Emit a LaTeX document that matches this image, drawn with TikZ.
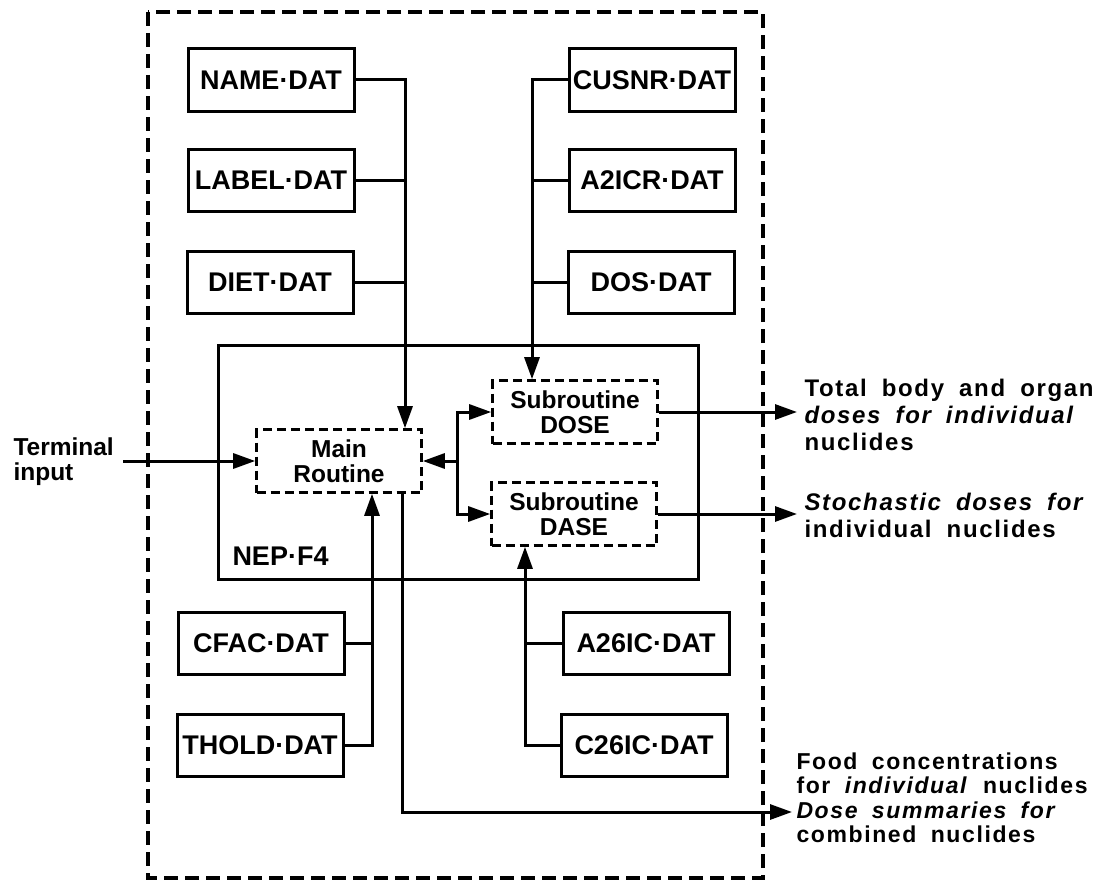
\documentclass[tikz,border=0pt]{standalone}
\usepackage{fontspec}
\setmainfont{Liberation Sans}
\newfontfamily\lblfont[LetterSpace=7,WordSpace=1.8]{Liberation Sans}
\usetikzlibrary{arrows.meta}
\begin{document}
\begin{tikzpicture}[x=1pt,y=-1pt,line width=3pt,
  filebox/.style={draw, minimum width=166pt, minimum height=62pt, inner sep=0pt,
    font=\fontsize{27}{30}\selectfont\bfseries},
  routine/.style={draw, line width=2.6pt, dash pattern=on 9pt off 5pt, minimum width=165pt, minimum height=63pt,
    inner sep=0pt, align=center, font=\fontsize{24.5}{25}\selectfont\bfseries},
  arr/.style={-{Triangle[length=22pt,width=15pt]}},
  outlbl/.style={anchor=west, align=left, inner sep=0pt,
    font=\lblfont\fontsize{24}{27}\selectfont\bfseries},
  botlbl/.style={anchor=west, align=left, inner sep=0pt,
    font=\lblfont\fontsize{23}{24.5}\selectfont\bfseries},
  plainlbl/.style={anchor=west, align=left, inner sep=0pt,
    font=\fontsize{24.5}{25}\selectfont\bfseries},
]
\useasboundingbox (0,0) rectangle (1098,883);

% outer dashed frame
\draw[line width=3.2pt, dash pattern=on 14pt off 7pt] (148,12) rectangle (763,878);

% NEP.F4 box
\node[draw, minimum width=480pt, minimum height=234pt, inner sep=0pt] (nep) at (458,462) {};
\node[plainlbl, font=\fontsize{27}{30}\selectfont\bfseries] (neplbl) at (231,556) {NEP·F4};

% data files
\node[filebox] (name)  at (271,80)  {NAME·DAT};
\node[filebox] (label) at (271,180) {LABEL·DAT};
\node[filebox] (diet)  at (270,282) {DIET·DAT};
\node[filebox] (cusnr) at (652,80)  {CUSNR·DAT};
\node[filebox] (a2icr) at (652,180) {A2ICR·DAT};
\node[filebox] (dos)   at (651,282) {DOS·DAT};
\node[filebox] (cfac)  at (261,643) {CFAC·DAT};
\node[filebox] (thold) at (260,745) {THOLD·DAT};
\node[filebox] (a26)   at (646,643) {A26IC·DAT};
\node[filebox] (c26)   at (644,745) {C26IC·DAT};

% routines
\node[routine] (main) at (339,461) {Main\\Routine};
\node[routine] (dose) at (575,412) {Subroutine\\DOSE};
\node[routine] (dase) at (574,514) {Subroutine\\DASE};

% labels
\node[plainlbl] (term) at (12,462) {Terminal\\input};
\node[outlbl] (doselbl) at (803,415) {Total body and organ\\\textit{doses for individual}\\nuclides};
\node[outlbl] (daselbl) at (803,515) {\textit{Stochastic doses for}\\individual nuclides};
\node[botlbl] (foodlbl) at (795,798) {Food concentrations\\for \textit{individual} nuclides\\\textit{Dose summaries for}\\combined nuclides};

% coordinates
\coordinate (lj) at (405,80);
\coordinate (rj) at (532,80);
\coordinate (lb) at (372,744);
\coordinate (rb) at (525,744);
\coordinate (mox) at (402,812);
\coordinate (foodend) at (792,812);
\coordinate (tin) at (123,461);
\coordinate (sp) at (457,461);
\coordinate (doseend) at (797,412);
\coordinate (daseend) at (797,514);

% top-left files to main
\draw[arr] (name.east) -| (main.north -| lj);
\draw (label.east) -- (label.east -| lj);
\draw (diet.east) -- (diet.east -| lj);

% top-right files to DOSE
\draw[arr] (cusnr.west) -| (dose.north -| rj);
\draw (a2icr.west) -- (a2icr.west -| rj);
\draw (dos.west) -- (dos.west -| rj);

% bottom-left files to main
\draw[arr] (thold.east) -| (main.south -| lb);
\draw (cfac.east) -- (cfac.east -| lb);

% bottom-right files to DASE
\draw[arr] (c26.west) -| (dase.south -| rb);
\draw (a26.west) -- (a26.west -| rb);

% terminal input
\draw[arr] (tin) -- (main.west);

% main <-> subroutines
\draw[arr] (sp) -- (main.east);
\draw[arr] (sp) |- (dose.west);
\draw[arr] (sp) |- (dase.west);

% outputs
\draw[arr] (dose.east) -- (doseend);
\draw[arr] (dase.east) -- (daseend);
\draw[arr] (main.south -| mox) |- (foodend);
\end{tikzpicture}
\end{document}
